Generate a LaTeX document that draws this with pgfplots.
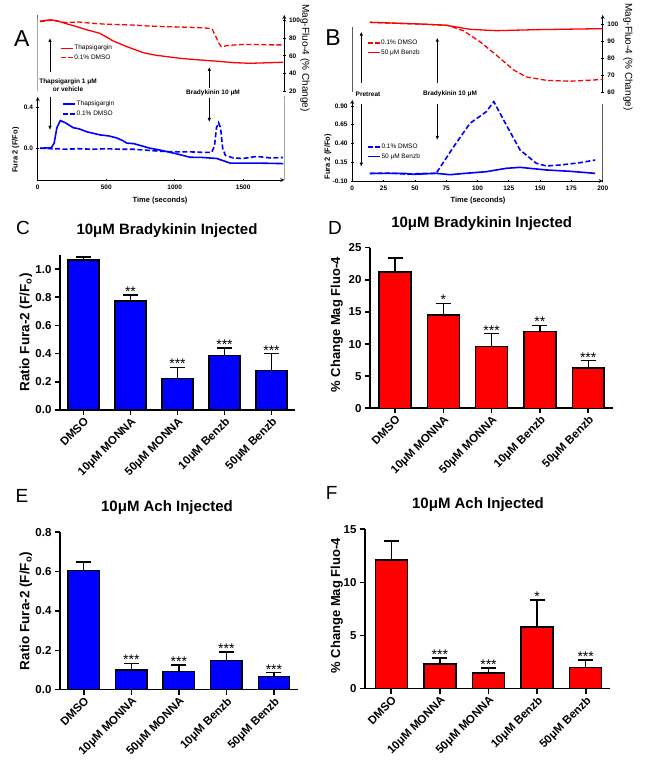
\documentclass[border=0pt]{standalone}
\usepackage{pgfplots}
\pgfplotsset{compat=1.18}
\usepackage{fontspec}
\setmainfont{Liberation Sans}
\usetikzlibrary{arrows.meta}
\definecolor{pblue}{RGB}{0,0,255}
\definecolor{pred}{RGB}{255,0,0}
\newcommand{\fs}[1]{\fontsize{#1}{#1}\selectfont}
\pgfplotsset{
  trace/.style={scale only axis, anchor=south west, xmin=0,
    /pgf/number format/assume math mode=true, /pgf/number format/1000 sep={},
    tick label style={font=\fs{6.5}\bfseries},
    label style={font=\fs{7.5}\bfseries},
    axis line style={line width=0.8pt,-}, tick style={line width=0.8pt,black},
    tick align=outside, major tick length=2.5pt,
    legend cell align=left,
    legend image code/.code={\draw[##1] (0pt,0pt) -- (12pt,0pt);},
    legend style={draw=none, fill=none, anchor=north west, font=\fs{6.5}, inner sep=0pt, row sep=1.5pt, nodes={inner sep=1pt}},
  },
  bars/.style={scale only axis, anchor=south west,
    /pgf/number format/assume math mode=true,
    axis x line=bottom, axis y line=left,
    axis line style={line width=1.6pt,-}, tick style={line width=1.6pt,black},
    tick align=outside, major tick length=5pt,
    xmin=-0.5, xmax=4.5, ymin=0, xtick={0,1,2,3,4},
    xticklabels={DMSO,10μM MONNA,50μM MONNA,10μM Benzb,50μM Benzb},
    xticklabel style={rotate=45, anchor=north east, font=\fs{11.5}\bfseries, inner sep=1pt},
    yticklabel style={font=\fs{11.5}\bfseries},
    label style={font=\fs{13.5}\bfseries},
    clip=false,
  },
  mybar/.style={ybar, bar width=0.66, fill=#1, draw=black, line width=1.4pt,
    error bars/.cd, y dir=plus, y explicit,
    error bar style={line width=1.4pt, black},
    error mark options={rotate=90, mark size=7.5pt, line width=1.4pt, black}},
  stars/.style={only marks, mark=none, nodes near coords, point meta=explicit symbolic,
    nodes near coords style={anchor=base, yshift=-1.4pt, font=\fs{14}, inner sep=0pt, text=black}},
  oned/.style={/pgf/number format/.cd, fixed, fixed zerofill, precision=1},
}
\tikzset{arr/.style={line width=0.8pt, -{Latex[length=4pt,width=3.5pt]}}}
\begin{document}
\begin{tikzpicture}[x=1pt,y=1pt]
\path (0,0) rectangle (645,778);

% ---------------- Panel A ----------------
\begin{axis}[trace, at={(37.7pt,687pt)}, width=246.6pt, height=76pt, xmax=1800, ymin=20, ymax=106.5,
  axis x line=none, axis y line=right, ytick={20,40,60,80,100},
  ylabel={Mag-Fluo-4 (\% Change)}, ylabel style={at={(axis description cs:1.084,0.434)}, anchor=center, rotate=180},
  legend style={at={(axis description cs:0.09,0.62)}}]
\addplot[pred, line width=1.3pt] coordinates {(17,99.5)(60,100.5)(100,101)(139,100)(200,97)(285,93.2)(350,90)(455,85.6)(550,77)(650,70.5)(771,63.6)(850,61)(942,59.1)(1050,57)(1185,55.3)(1300,54)(1428,52.3)(1550,51.5)(1650,52)(1793,52.7)};
\addlegendentry{Thapsigargin}
\addplot[pred, line width=1.3pt, dash pattern=on 5pt off 2.5pt] coordinates {(17,98.9)(100,100.5)(200,98)(300,98.5)(400,97)(500,96)(600,95.5)(700,95)(800,94)(900,93.5)(1000,93)(1100,92.5)(1200,92)(1250,91.3)(1275,90)(1300,82)(1320,75)(1340,70.5)(1400,72)(1500,73)(1600,73)(1700,72.5)(1790,72.5)};
\addlegendentry{0.1\% DMSO}
\draw[line width=0.8pt] (rel axis cs:0,0) -- (rel axis cs:0,1);
\draw[line width=0.8pt] (rel axis cs:0,1) -- ++(-2.5pt,0);
\draw[line width=0.8pt] (rel axis cs:0,0) -- ++(-2.5pt,0);
\end{axis}

\begin{axis}[trace, at={(37.7pt,598pt)}, width=246.6pt, height=83pt, xmax=1800, ymin=-0.31, ymax=0.5,
  axis x line=bottom, axis y line=left, xtick={0,500,1000,1500}, ytick={0,0.4},
  yticklabel style={oned},
  xlabel={Time (seconds)}, xlabel style={at={(axis description cs:0.496,-0.253)}, anchor=center},
  ylabel={Fura 2 (F/Fo)}, ylabel style={at={(axis description cs:-0.089,0.36)}, anchor=center},
  legend style={at={(axis description cs:0.098,0.964)}}]
\addplot[pblue, line width=1.6pt] coordinates {(17,0)(100,0.005)(120,0.05)(140,0.2)(165,0.27)(200,0.25)(260,0.2)(300,0.19)(360,0.16)(455,0.13)(520,0.12)(577,0.1)(620,0.075)(650,0.05)(700,0.045)(820,0)(900,-0.02)(1015,-0.055)(1112,-0.088)(1200,-0.09)(1307,-0.1)(1350,-0.12)(1404,-0.145)(1500,-0.145)(1600,-0.145)(1793,-0.15)};
\addlegendentry{Thapsigargin}
\addplot[pblue, line width=1.6pt, dash pattern=on 5pt off 2.5pt] coordinates {(17,0)(100,-0.005)(150,-0.005)(200,-0.01)(300,-0.005)(400,-0.01)(500,-0.005)(600,-0.01)(700,-0.01)(800,-0.02)(900,-0.03)(1000,-0.035)(1100,-0.035)(1200,-0.04)(1270,-0.04)(1290,0.02)(1305,0.2)(1320,0.25)(1335,0.2)(1350,0)(1370,-0.07)(1428,-0.095)(1500,-0.1)(1600,-0.08)(1700,-0.095)(1790,-0.09)};
\addlegendentry{0.1\% DMSO}
\draw[line width=0.8pt] (rel axis cs:1,0) -- (rel axis cs:1,1);
\draw[line width=0.8pt] (rel axis cs:1,1) -- ++(2.5pt,0);
\end{axis}

\node[font=\fs{23}] at (21.7,739) {A};
\node[font=\fontsize{6.5}{8}\selectfont\bfseries, align=center] at (68,693) {Thapsigargin 1 μM\\or vehicle};
\draw[arr] (50,706) -- (50,740);
\draw[arr] (50,681) -- (50,648);
\node[font=\fs{6.5}\bfseries] at (213,685) {Bradykinin 10 μM};
\draw[arr] (209.3,690) -- (209.3,711);
\draw[arr] (209.3,680) -- (209.3,656);

% ---------------- Panel B ----------------
\begin{axis}[trace, at={(352.3pt,685.7pt)}, width=250.4pt, height=77.3pt, xmax=200, ymin=60, ymax=105.3,
  axis x line=none, axis y line=right, ytick={60,70,80,90,100},
  ylabel={Mag-Fluo-4 (\% Change)}, ylabel style={at={(axis description cs:1.101,0.457)}, anchor=center, rotate=180},
  legend style={at={(axis description cs:0.0575,0.693)}}]
\addplot[pred, line width=1.3pt, dash pattern=on 5pt off 2.5pt] coordinates {(14,101)(30,100.6)(54,100)(75,99.3)(78,98.8)(89,96)(102,89.6)(115,81.8)(129,73)(139,69)(155,67)(174,66.5)(200,67.5)};
\addlegendentry{0.1\% DMSO}
\addplot[pred, line width=1.3pt] coordinates {(14,101)(30,100.6)(54,100)(75,99.3)(94,96.9)(115,96.1)(147,96.7)(200,97.3)};
\addlegendentry{50 μM Benzb}
\draw[line width=0.8pt] (rel axis cs:0,0.0) -- (rel axis cs:0,0.85);
\end{axis}

\begin{axis}[trace, at={(352.3pt,597pt)}, width=250.4pt, height=81pt, xmax=200, ymin=-0.10, ymax=0.98,
  axis x line=bottom, axis y line=left, xtick={0,25,...,200}, ytick={-0.10,0.15,0.40,0.65,0.90},
  yticklabel style={/pgf/number format/.cd, fixed, fixed zerofill, precision=2},
  xlabel={Time (seconds)}, xlabel style={at={(axis description cs:0.502,-0.247)}, anchor=center},
  ylabel={Fura 2 (F/Fo)}, ylabel style={at={(axis description cs:-0.097,0.30)}, anchor=center},
  legend style={at={(axis description cs:0.0575,0.473)}}]
\addplot[pblue, line width=1.6pt, dash pattern=on 5pt off 2.5pt] coordinates {(14,0)(30,0.005)(45,-0.01)(55,0.0)(67,0.003)(81,0.358)(94,0.669)(107,0.824)(113,0.958)(123,0.647)(134,0.313)(147,0.136)(155,0.1)(166,0.113)(182,0.144)(194,0.18)};
\addlegendentry{0.1\% DMSO}
\addplot[pblue, line width=1.6pt] coordinates {(14,0.002)(41,0.002)(49,-0.011)(67,0.002)(78,-0.016)(89,0.0)(107,0.024)(123,0.069)(134,0.082)(155,0.047)(174,0.029)(194,0.002)};
\addlegendentry{50 μM Benzb}
\draw[line width=0.8pt] (rel axis cs:1,0) -- (rel axis cs:1,0.95);
\end{axis}

\node[font=\fs{23}] at (333,740) {B};
\node[font=\fs{6.5}\bfseries] at (368,684) {Pretreat};
\draw[arr] (361.3,695) -- (361.3,746.3);
\draw[arr] (361.3,674) -- (361.3,611.3);
\node[font=\fs{6.5}\bfseries] at (450,684) {Bradykinin 10 μM};
\draw[arr] (437.3,695) -- (437.3,740.3);
\draw[arr] (437.3,674) -- (437.3,638);

% ---------------- Panel C ----------------
\begin{axis}[bars, at={(60pt,368pt)}, width=235pt, height=155pt, ymax=1.1, ytick={0,0.2,...,1.0},
  yticklabel style={oned},
  ylabel={Ratio Fura-2 (F/F\textsubscript{o})}, ylabel style={at={(axis description cs:-0.145,0.5)}, anchor=center}]
\addplot[mybar=pblue] coordinates {(0,1.065) +- (0,0.022) (1,0.774) +- (0,0.042) (2,0.224) +- (0,0.077) (3,0.386) +- (0,0.054) (4,0.28) +- (0,0.12)};
\addplot[stars] coordinates {(1,0.816)[**] (2,0.301)[***] (3,0.44)[***] (4,0.40)[***]};
\end{axis}
\node[font=\fs{19}] at (23,550) {C};
\node[font=\fs{15}\bfseries] at (167,547.3) {10μM Bradykinin Injected};

% ---------------- Panel D ----------------
\begin{axis}[bars, at={(370pt,369.7pt)}, width=243.3pt, height=160.6pt, ymax=25, ytick={0,5,...,25},
  xmin=-0.52, xmax=4.52,
  ylabel={\% Change Mag Fluo-4}, label style={font=\fs{13}\bfseries},
  ylabel style={at={(axis description cs:-0.137,0.52)}, anchor=center}]
\addplot[mybar=pred] coordinates {(0,21.2) +- (0,2.2) (1,14.5) +- (0,1.8) (2,9.6) +- (0,2.0) (3,12.0) +- (0,0.9) (4,6.25) +- (0,1.15)};
\addplot[stars] coordinates {(1,16.3)[*] (2,11.6)[***] (3,12.9)[**] (4,7.4)[***]};
\end{axis}
\node[font=\fs{19}] at (335,550.5) {D};
\node[font=\fs{15}\bfseries] at (481.7,554.7) {10μM Bradykinin Injected};

% ---------------- Panel E ----------------
\begin{axis}[bars, at={(60pt,88.3pt)}, width=237.7pt, height=157.4pt, ymax=0.8, ytick={0,0.2,...,0.8},
  yticklabel style={oned},
  ylabel={Ratio Fura-2 (F/F\textsubscript{o})}, ylabel style={at={(axis description cs:-0.143,0.5)}, anchor=center}]
\addplot[mybar=pblue] coordinates {(0,0.607) +- (0,0.043) (1,0.10) +- (0,0.034) (2,0.092) +- (0,0.033) (3,0.147) +- (0,0.044) (4,0.068) +- (0,0.018)};
\addplot[stars] coordinates {(1,0.134)[***] (2,0.125)[***] (3,0.191)[***] (4,0.086)[***]};
\end{axis}
\node[font=\fs{19}] at (22,282) {E};
\node[font=\fs{15}\bfseries] at (167,270.7) {10μM Ach Injected};

% ---------------- Panel F ----------------
\begin{axis}[bars, at={(365pt,89.3pt)}, width=245pt, height=159.4pt, ymax=15, ytick={0,5,10,15},
  xmin=-0.54, xmax=4.5,
  ylabel={\% Change Mag Fluo-4}, label style={font=\fs{13}\bfseries},
  ylabel style={at={(axis description cs:-0.115,0.52)}, anchor=center}]
\addplot[mybar=pred] coordinates {(0,12.1) +- (0,1.8) (1,2.34) +- (0,0.56) (2,1.49) +- (0,0.44) (3,5.8) +- (0,2.55) (4,2.0) +- (0,0.7)};
\addplot[stars] coordinates {(1,2.9)[***] (2,1.93)[***] (3,8.35)[*] (4,2.7)[***]};
\end{axis}
\node[font=\fs{19}] at (331.7,285.3) {F};
\node[font=\fs{15}\bfseries] at (478,273.7) {10μM Ach Injected};
\end{tikzpicture}
\end{document}
